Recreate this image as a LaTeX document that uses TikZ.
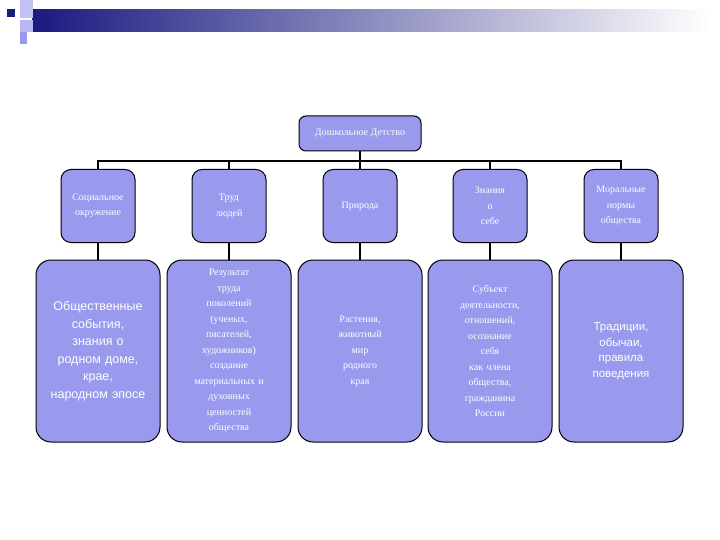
\documentclass[tikz,border=0pt]{standalone}
\usepackage{fontspec}
\setmainfont{Liberation Serif}
\newfontfamily\sansf{Liberation Sans}
\definecolor{boxc}{HTML}{9999EE}
\definecolor{navy}{HTML}{1A1A80}
\begin{document}
\begin{tikzpicture}[x=1pt,y=-1pt,
  bx/.style={draw=black,line width=1pt,fill=boxc,rounded corners=10pt,text=white,align=center,font=\fontsize{10}{15.5}\selectfont,inner sep=1pt},
  big/.style={bx,rounded corners=15pt,minimum width=124pt,minimum height=182pt,text width=122pt},
  sm/.style={bx,minimum width=73pt,minimum height=73pt,text width=72pt},
  ln/.style={line width=2pt}]
\useasboundingbox (0,0) rectangle (720,540);
% header
\shade[left color=navy,right color=white] (32,10) rectangle (710,32);
\fill[navy] (7,9) rectangle (15,17);
\fill[boxc!60] (20,0) rectangle (33,18);
\fill[boxc!70] (20,20) rectangle (33,32);
\fill[boxc] (20,32) rectangle (27,44);
% top
\node[bx,minimum width=122pt,minimum height=35pt,rounded corners=7pt] (top) at (360,133.5) {Дошкольное Детство};
\coordinate (bar) at (360,161);
\node[sm] (a1) at (98,206) {Социальное\\окружение};
\node[sm] (a2) at (229,206) {Труд\\людей};
\node[sm] (a3) at (360,206) {Природа};
\node[sm] (a4) at (490,206) {Знания\\о\\себе};
\node[sm] (a5) at (621,206) {Моральные\\нормы\\общества};
\node[big,font=\sansf\fontsize{12.5}{17.5}\selectfont] (b1) at (98,351) {Общественные\\события,\\знания о\\родном доме,\\крае,\\народном эпосе};
\node[big] (b2) at (229,351) {Результат\\труда\\поколений\\(ученых,\\писателей,\\художников)\\создание\\материальных и\\духовных\\ценностей\\общества};
\node[big] (b3) at (360,351) {Растения,\\животный\\мир\\родного\\края};
\node[big] (b4) at (490,351) {Субъект\\деятельности,\\отношений,\\осознание\\себя\\как члена\\общества,\\гражданина\\России};
\node[big,font=\sansf\fontsize{11.5}{15.5}\selectfont] (b5) at (621,351) {Традиции,\\обычаи,\\правила\\поведения};
\draw[ln] (top.south) -- (bar);
\draw[ln] (a1.north) |- (a5.north |- bar) -- (a5.north);
\foreach \i in {2,3,4}{\draw[ln] (a\i.north) -- (a\i.north |- bar);}
\foreach \i in {1,...,5}{\draw[ln] (a\i.south) -- (b\i.north);}
\end{tikzpicture}
\end{document}
